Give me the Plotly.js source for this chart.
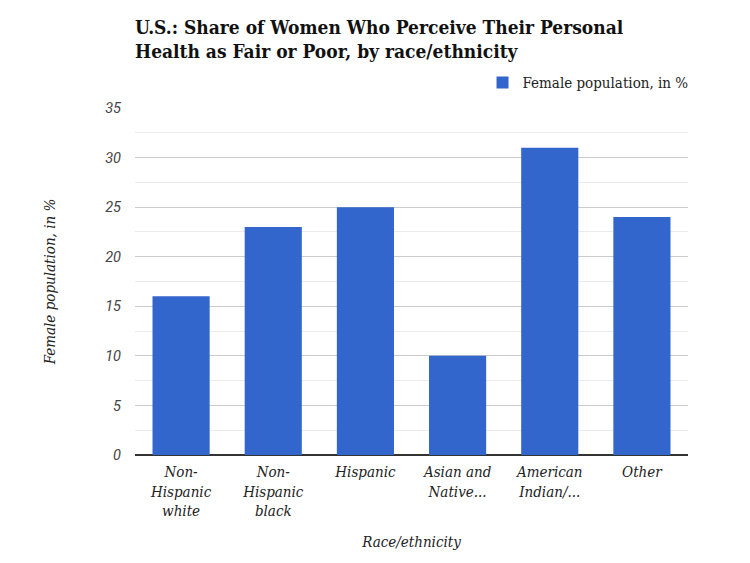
<!DOCTYPE html>
<html>
<head>
<meta charset="utf-8">
<script src="https://cdn.plot.ly/plotly-3.0.1.min.js"></script>
<style>
  body { margin: 0; background: #fff; }
  #chart { width: 750px; height: 563px; }
</style>
</head>
<body>
<div id="chart"></div>
<script>
var categories = ['Non-Hispanic white', 'Non-Hispanic black', 'Hispanic', 'Asian and Native...', 'American Indian/...', 'Other'];
var tickLabels = ['Non-<br>Hispanic<br>white', 'Non-<br>Hispanic<br>black', 'Hispanic', 'Asian and<br>Native...', 'American<br>Indian/...', 'Other'];
var femaleShare = [16, 23, 25, 10, 31, 24];
var yTicks = [0, 5, 10, 15, 20, 25, 30, 35];

var slab = '"DejaVu Serif Condensed", "DejaVu Serif", serif';

var data = [
  {
    type: 'bar',
    name: 'Female population, in %',
    x: categories,
    y: femaleShare,
    marker: { color: '#3366cc' },
    hoverinfo: 'x+y'
  }
];

var layout = {
  width: 750,
  height: 563,
  margin: { l: 135, r: 62, t: 108, b: 108 },
  paper_bgcolor: '#fff',
  plot_bgcolor: '#fff',
  bargap: 0.38,
  font: { family: slab, color: '#222', size: 14 },
  title: {
    text: '<b>U.S.: Share of Women Who Perceive Their Personal<br>Health as Fair or Poor, by race/ethnicity</b>',
    font: { family: slab, size: 19, color: '#111' },
    x: 0, xref: 'paper', xanchor: 'left',
    yref: 'container', y: 0.94, yanchor: 'top'
  },
  showlegend: true,
  legend: {
    orientation: 'h',
    x: 1.01, xanchor: 'right',
    y: 1.025, yanchor: 'bottom',
    font: { family: slab, size: 15, color: '#222' }
  },
  xaxis: {
    tickmode: 'array',
    tickvals: categories,
    ticktext: tickLabels,
    tickfont: { family: slab, size: 15, color: '#222', style: 'italic' },
    ticklabelstandoff: 6,
    showgrid: false,
    showline: false,
    ticks: '',
    title: {
      text: 'Race/ethnicity',
      font: { family: slab, size: 15, color: '#222', style: 'italic' },
      standoff: 17
    }
  },
  yaxis: {
    range: [0, 35],
    tickmode: 'array',
    tickvals: yTicks,
    tickfont: { family: 'Roboto, sans-serif', size: 14.5, color: '#444', style: 'italic' },
    ticklabelstandoff: 13,
    showgrid: true,
    gridcolor: '#cccccc',
    gridwidth: 1,
    minor: { dtick: 2.5, showgrid: true, gridcolor: '#ebebeb', gridwidth: 1 },
    zeroline: true,
    zerolinecolor: '#333',
    zerolinewidth: 2,
    showline: false,
    title: {
      text: 'Female population, in %',
      font: { family: slab, size: 15, color: '#222', style: 'italic' },
      standoff: 45
    }
  }
};

Plotly.newPlot('chart', data, layout, { displayModeBar: false, responsive: false });
</script>
</body>
</html>
